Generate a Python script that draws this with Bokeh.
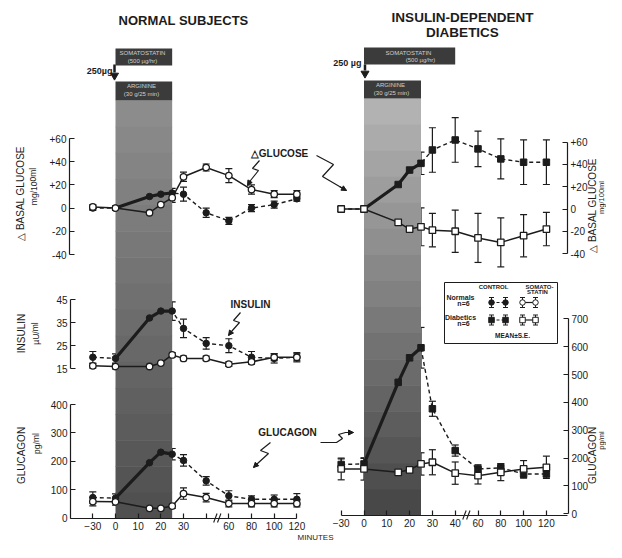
from bokeh.plotting import figure
from bokeh.models import (Range1d, LinearAxis, FixedTicker, Whisker, ColumnDataSource,
                          TeeHead, Arrow, NormalHead)
from bokeh.core.properties import value
from bokeh.embed import file_html
from bokeh.resources import INLINE

# ---------------- data ----------------
minutes = [-30, 0, 15, 20, 25, 30, 40, 60, 80, 100, 120]
axis_minutes_left = [-30, 0, 10, 20, 30, 40, 60, 80, 100, 120]
axis_labels_left = ["\u221230", "0", "10", "20", "30", "", "60", "80", "100", "120"]
axis_labels_right = ["\u221230", "0", "10", "20", "30", "40", "60", "80", "100", "120"]

# Normal subjects
n_glu_ctrl = [0, 0, 10, 12, 13, 12, -4, -11, 0, 3, 8]
n_glu_ctrl_se = [2, 2, 3, 3, 4, 6, 4, 3, 3, 3, 2]
n_glu_ss = [1, 0, -4, 3, 9, 27, 35, 28, 16, 12, 12]
n_glu_ss_se = [2, 1, 1, 3, 4, 4, 3, 6, 4, 3, 3]

n_ins_ctrl = [20, 19.5, 37, 40, 40, 32.5, 26, 25, 20, 19.5, 20]
n_ins_ctrl_se = [2.5, 2, 3.5, 3, 4, 4, 2.5, 3, 2.5, 2, 2]
n_ins_ss = [16.3, 16, 16, 17.5, 21, 19.5, 19.5, 17, 18, 20, 20]
n_ins_ss_se = [1, 1, 1, 1, 1, 1, 1, 1, 1, 1.5, 1.5]

n_gcg_ctrl = [72, 70, 195, 232, 225, 203, 131, 78, 66, 66, 66]
n_gcg_ctrl_se = [20, 15, 15, 24, 20, 20, 15, 18, 12, 15, 20]
n_gcg_ss = [58, 57, 34, 34, 42, 86, 72, 51, 51, 51, 51]
n_gcg_ss_se = [15, 12, 5, 5, 8, 20, 15, 12, 12, 12, 12]

# Insulin-dependent diabetics
d_glu_ctrl = [0, 0, 22, 35, 41, 53, 62, 54, 45, 42, 42]
d_glu_ctrl_se = [2, 2, 10, 7, 10, 20, 20, 16, 18, 20, 20]
d_glu_ss = [0, 0, -12, -18, -16, -19, -20, -26, -30, -24, -18]
d_glu_ss_se = [2, 2, 7, 21, 17, 15, 19, 22, 22, 19, 15]

d_gcg_ctrl = [177, 179, 472, 560, 596, 377, 227, 161, 165, 143, 143]
d_gcg_ctrl_se = [20, 20, 63, 54, 73, 27, 20, 15, 15, 15, 10]
d_gcg_ss = [161, 161, 149, 158, 179, 185, 146, 137, 149, 161, 167]
d_gcg_ss_se = [39, 40, 35, 30, 40, 45, 40, 30, 30, 30, 40]

glu_ticks = [-40, -20, 0, 20, 40, 60]
glu_labels = ["-40", "-20", "0", "+20", "+40", "+60"]
ins_ticks = [15, 25, 35, 45]
n_gcg_ticks = [0, 100, 200, 300, 400]
d_gcg_ticks = [0, 100, 200, 300, 400, 500, 600, 700]

arginine_min = (0, 25)
somato_left_min = (0, 25)
somato_right_min = (0, 40)

# ---------------- helpers ----------------
ink = "#1c1c1c"
FONT = "Liberation Sans"
W, H = 606, 542


def slot(m):
    """Broken time axis: -30..0 compressed, 0..40 per 10 min, 40..120 per 20 min."""
    if m <= 0:
        return m / 30.0
    if m <= 40:
        return m / 10.0
    return 4 + (m - 40) / 20.0


def lin_range(v0, px0, v1, px1, lo_px, hi_px):
    b = (px1 - px0) / (v1 - v0)
    return Range1d(start=v0 + (lo_px - px0) / b, end=v0 + (hi_px - px0) / b)


p = figure(width=W, height=H, x_range=Range1d(0, W), y_range=Range1d(H, 0),
           output_backend="svg", toolbar_location=None, x_axis_location=None,
           y_axis_location=None, min_border=0, outline_line_color=None,
           background_fill_color="white", border_fill_color="white")
p.grid.visible = False

p.extra_x_ranges = {
    "xl": lin_range(0, 115.0, 1, 137.67, 0, W),
    "xr": lin_range(0, 363.5, 1, 386.3, 0, W),
}
p.extra_y_ranges = {
    "ngl": lin_range(0, 207.6, 60, 138.0, H, 0),
    "nin": lin_range(15, 368.3, 45, 299.0, H, 0),
    "ngc": lin_range(0, 517.5, 400, 404.0, H, 0),
    "dgl": lin_range(0, 208.5, 60, 141.7, H, 0),
    "dgc": lin_range(0, 513.3, 700, 318.3, H, 0),
}


def txt(x, y, s, size, bold=False, angle=0.0, align="center", color=ink, font=FONT):
    p.text(x=[x], y=[y], text=[s], text_font=value(font), text_font_size=f"{size}px",
           text_font_style="bold" if bold else "normal", angle=angle, text_align=align,
           text_baseline="middle", text_color=color)


def style_axis(ax):
    ax.major_tick_in = 5
    ax.major_tick_out = 0
    ax.minor_tick_line_color = None
    ax.axis_line_color = ink
    ax.axis_line_width = 1.2
    ax.major_tick_line_color = ink
    ax.major_tick_line_width = 1.2
    ax.major_label_text_font = FONT
    ax.major_label_text_font_size = "10px"
    ax.major_label_text_color = ink
    ax.major_label_standoff = 3


def y_axis(rng, loc, ticks, labels, side):
    ax = LinearAxis(y_range_name=rng, fixed_location=loc, bounds=(min(ticks), max(ticks)),
                    ticker=FixedTicker(ticks=ticks),
                    major_label_overrides={t: l for t, l in zip(ticks, labels)})
    style_axis(ax)
    p.add_layout(ax, side)


def x_axis(rng, loc, bounds, labels):
    ticks = [slot(m) for m in axis_minutes_left]
    ax = LinearAxis(x_range_name=rng, fixed_location=loc, bounds=bounds,
                    ticker=FixedTicker(ticks=ticks),
                    major_label_overrides={t: l for t, l in zip(ticks, labels)})
    style_axis(ax)
    p.add_layout(ax, "below")


# ---------------- shaded arginine bands ----------------
def band(xr, top, bottom, c_top, c_bot, n=16):
    h = (bottom - top) / n
    for i in range(n):
        f = i / (n - 1)
        c = tuple(int(round(c_top[k] + (c_bot[k] - c_top[k]) * f)) for k in range(3))
        p.quad(left=[slot(arginine_min[0])], right=[slot(arginine_min[1])],
               top=[top + i * h], bottom=[top + (i + 1) * h + 0.6], x_range_name=xr,
               fill_color="#%02x%02x%02x" % c, line_color=None)


band("xl", 100, 518, (140, 140, 140), (80, 80, 80))
band("xr", 98, 515, (178, 178, 178), (72, 72, 72))

# dark treatment boxes
box_col = "#3b3b3b"
p.quad(left=[slot(somato_left_min[0])], right=[slot(somato_left_min[1])], top=[48], bottom=[65],
       x_range_name="xl", fill_color=box_col, line_color=None)
p.quad(left=[slot(arginine_min[0])], right=[slot(arginine_min[1])], top=[81], bottom=[100],
       x_range_name="xl", fill_color=box_col, line_color=None)
p.quad(left=[slot(somato_right_min[0])], right=[slot(somato_right_min[1])], top=[47], bottom=[64],
       x_range_name="xr", fill_color=box_col, line_color=None)
p.quad(left=[slot(arginine_min[0])], right=[slot(arginine_min[1])], top=[80], bottom=[98],
       x_range_name="xr", fill_color=box_col, line_color=None)

box_txt = "#d0d0d0"
txt(142, 52.5, "SOMATOSTATIN", 6, color=box_txt)
txt(142, 60.5, "(500 \u00b5g/hr)", 6, color=box_txt)
txt(141, 85.5, "ARGININE", 6, color=box_txt)
txt(141, 93, "(30 g/25 min)", 6, color=box_txt)
txt(408, 52, "SOMATOSTATIN", 6, color=box_txt)
txt(420, 59.5, "(500 \u00b5g/hr)", 6, color=box_txt)
txt(390, 84.5, "ARGININE", 6, color=box_txt)
txt(391, 92, "(30 g/25 min)", 6, color=box_txt)

# bolus arrows
txt(112, 70.5, "250\u00b5g", 9, bold=True, align="right")
p.segment(x0=[114], y0=[64], x1=[114], y1=[72], line_color=ink, line_width=2.5)
p.scatter(x=[114], y=[75], marker="inverted_triangle", size=8, fill_color=ink, line_color=ink)
txt(361, 62, "250 \u00b5g", 9, bold=True, align="right")
p.segment(x0=[364.5], y0=[64], x1=[364.5], y1=[70], line_color=ink, line_width=2.5)
p.scatter(x=[364.5], y=[73], marker="inverted_triangle", size=8, fill_color=ink, line_color=ink)

# ---------------- axes ----------------
y_axis("ngl", 69, glu_ticks, glu_labels, "left")
y_axis("nin", 70, ins_ticks, [str(t) for t in ins_ticks], "left")
y_axis("ngc", 70, n_gcg_ticks, [str(t) for t in n_gcg_ticks], "left")
y_axis("dgl", 567, glu_ticks, glu_labels, "right")
y_axis("dgc", 568, d_gcg_ticks, [str(t) for t in d_gcg_ticks], "right")
x_axis("xl", 518, (-1.98, 8), axis_labels_left)
x_axis("xr", 515, (-1.0, 8.93), axis_labels_right)

# axis breaks
for xr, yb in (("xl", 518), ("xr", 515)):
    for dx in (-0.12, 0.05):
        p.segment(x0=[4.45 + dx], y0=[yb + 4], x1=[4.6 + dx], y1=[yb - 5], x_range_name=xr,
                  line_color=ink, line_width=1.1)


# ---------------- series ----------------
def series(ctrl, ctrl_se, ss, ss_se, xr, yr, marker):
    xs = [slot(m) for m in minutes]
    kw = dict(x_range_name=xr, y_range_name=yr)
    p.line(xs, ss, line_color=ink, line_width=1.5, **kw)
    p.line(xs, ctrl, line_color=ink, line_width=1.4, line_dash="4 3", **kw)
    idx = [i for i, m in enumerate(minutes) if arginine_min[0] <= m <= arginine_min[1]]
    p.line([xs[i] for i in idx], [ctrl[i] for i in idx], line_color=ink, line_width=3.2, **kw)
    for vals, se in ((ctrl, ctrl_se), (ss, ss_se)):
        src = ColumnDataSource(dict(x=xs, lo=[v - s for v, s in zip(vals, se)],
                                    hi=[v + s for v, s in zip(vals, se)]))
        p.add_layout(Whisker(source=src, base="x", lower="lo", upper="hi", dimension="height",
                             line_color=ink, line_width=1.2,
                             upper_head=TeeHead(size=7, line_color=ink, line_width=1.2),
                             lower_head=TeeHead(size=7, line_color=ink, line_width=1.2), **kw))
    p.scatter(xs, ctrl, marker=marker, size=6.5, fill_color=ink, line_color=ink, **kw)
    p.scatter(xs, ss, marker=marker, size=6.5, fill_color="white", line_color=ink,
              line_width=1.3, **kw)


series(n_glu_ctrl, n_glu_ctrl_se, n_glu_ss, n_glu_ss_se, "xl", "ngl", "circle")
series(n_ins_ctrl, n_ins_ctrl_se, n_ins_ss, n_ins_ss_se, "xl", "nin", "circle")
series(n_gcg_ctrl, n_gcg_ctrl_se, n_gcg_ss, n_gcg_ss_se, "xl", "ngc", "circle")
series(d_glu_ctrl, d_glu_ctrl_se, d_glu_ss, d_glu_ss_se, "xr", "dgl", "square")
series(d_gcg_ctrl, d_gcg_ctrl_se, d_gcg_ss, d_gcg_ss_se, "xr", "dgc", "square")

# ---------------- titles & labels ----------------
txt(183, 20, "NORMAL SUBJECTS", 13, bold=True)
txt(462, 17, "INSULIN-DEPENDENT", 13.5, bold=True)
txt(462, 32, "DIABETICS", 13.5, bold=True)

rot = 1.5708
txt(20, 193, "\u25b3 BASAL GLUCOSE", 10, angle=rot)
txt(33, 186, "mg/100ml", 8.5, angle=rot)
txt(21, 333, "INSULIN", 10, angle=rot)
txt(35, 333, "\u00b5U/ml", 8.5, angle=rot)
txt(21, 455, "GLUCAGON", 10, angle=rot)
txt(36, 443, "pg/ml", 8.5, angle=rot)
txt(592, 205, "\u25b3 BASAL GLUCOSE", 10, angle=rot)
txt(601, 197, "mg/100ml", 7.5, angle=rot)
txt(592, 455, "GLUCAGON", 10, angle=rot)
txt(601, 440, "pg/ml", 7.5, angle=rot)

txt(279, 153, "\u25b3GLUCOSE", 10, bold=True)
txt(250, 304, "INSULIN", 10, bold=True)
txt(287, 432, "GLUCAGON", 10, bold=True)
txt(315, 537, "MINUTES", 8)


# squiggle pointers
def squiggle(pts, tip):
    xs = [q[0] for q in pts] + [tip[0]]
    ys = [q[1] for q in pts] + [tip[1]]
    p.line(xs, ys, line_color=ink, line_width=1.2)
    p.add_layout(Arrow(x_start=pts[-1][0], y_start=pts[-1][1], x_end=tip[0], y_end=tip[1],
                       line_color=ink, line_width=1.2,
                       end=NormalHead(size=5, fill_color=ink, line_color=ink)))


squiggle([(259, 160), (252, 168), (258, 170), (250, 180)], (247, 185))
squiggle([(316, 155), (333, 164), (322, 176), (339, 186)], (346, 190))
squiggle([(240, 312), (233, 320), (239, 322), (231, 331)], (228, 335))
squiggle([(270, 442), (260, 450), (268, 453), (257, 463)], (253, 467))
squiggle([(320, 442), (336, 442), (342, 438), (338, 434), (345, 432)], (353, 432))

# ---------------- legend box ----------------
p.quad(left=[444], right=[557], top=[282], bottom=[343], fill_color="white", line_color=ink,
       line_width=1)
txt(493, 286, "CONTROL", 6, bold=True)
txt(539, 286, "SOMATO-", 6, bold=True)
txt(537, 291.5, "STATIN", 6, bold=True)
txt(460, 297, "Normals", 7, bold=True)
txt(463, 303, "n=6", 7, bold=True)
txt(460, 316.5, "Diabetics", 7, bold=True)
txt(463, 322.5, "n=6", 7, bold=True)
txt(512, 335, "MEAN\u00b1S.E.", 6.5, bold=True)

for ly, mk in ((302, "circle"), (319.5, "square")):
    for (xa, xb), fill, dash in (((491, 505), ink, "3 2"), ((522, 535), "white", "solid")):
        p.line([xa, xb], [ly, ly], line_color=ink, line_width=1.2, line_dash=dash)
        p.segment(x0=[xa, xb], y0=[ly - 5, ly - 5], x1=[xa, xb], y1=[ly + 5, ly + 5],
                  line_color=ink, line_width=1)
        p.segment(x0=[xa - 2.5, xb - 2.5, xa - 2.5, xb - 2.5], y0=[ly - 5, ly - 5, ly + 5, ly + 5],
                  x1=[xa + 2.5, xb + 2.5, xa + 2.5, xb + 2.5], y1=[ly - 5, ly - 5, ly + 5, ly + 5],
                  line_color=ink, line_width=1)
        p.scatter([xa, xb], [ly, ly], marker=mk, size=5.5, fill_color=fill, line_color=ink)

open("out.html", "w").write(file_html(p, INLINE))
